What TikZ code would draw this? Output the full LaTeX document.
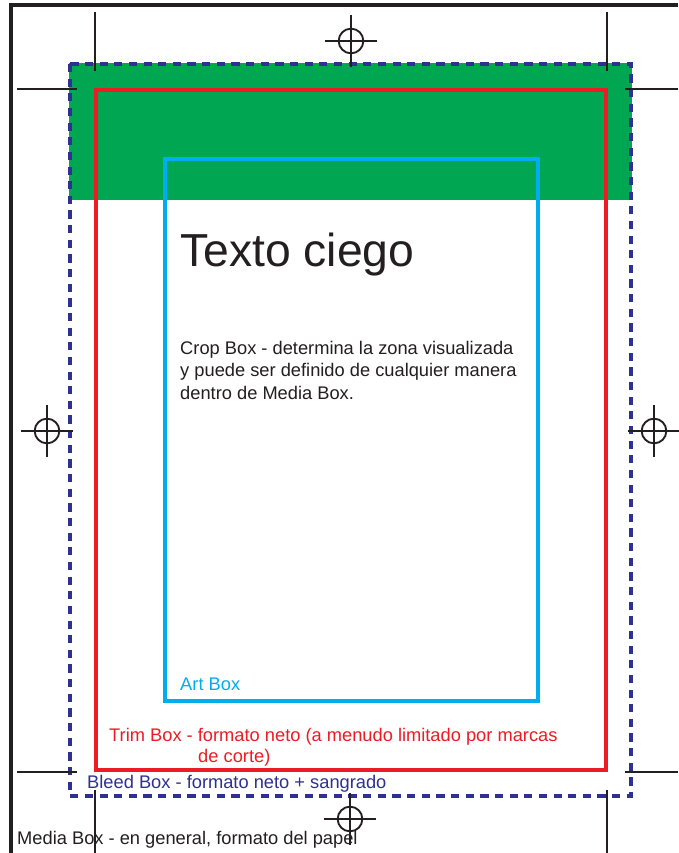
\documentclass[tikz,border=0pt]{standalone}
\usepackage{fontspec}
\setmainfont{Liberation Sans}
\definecolor{inkdark}{HTML}{231F20}
\definecolor{bleedgreen}{HTML}{00A651}
\definecolor{bleedblue}{HTML}{2E3192}
\definecolor{trimred}{HTML}{ED1C24}
\definecolor{artcyan}{HTML}{00AEEF}
\tikzset{
  medialine/.style={draw=inkdark, line width=2.6pt},
  bleedline/.style={draw=bleedblue, line width=2.8pt, dash pattern=on 7pt off 5.5pt},
  trimline/.style={draw=trimred, line width=2.8pt},
  artline/.style={draw=artcyan, line width=2.8pt},
  markline/.style={draw=inkdark, line width=1.3pt},
  boxlabel/.style={anchor=base west, inner sep=0pt, font=\fontsize{15.6}{18.8}\selectfont}
}

\begin{document}
\begin{tikzpicture}[x=0.03cm, y=-0.03cm]
\useasboundingbox (0,0) rectangle (678,853);
\fill[white] (0,0) rectangle (678,853);
\fill[bleedgreen] (69,63) rectangle (632,200);
\draw[medialine] (11,853) -- (11,5) -- (678,5);
\draw[bleedline] (70,64) rectangle (631,796);
\draw[trimline] (96,90) rectangle (606,770);
\draw[artline] (165,159) rectangle (538,701);
% crop marks
\draw[markline] (95,12) -- (95,71);
\draw[markline] (17,89) -- (77,89);
\draw[markline] (607,12) -- (607,71);
\draw[markline] (625,89) -- (678,89);
\draw[markline] (17,772) -- (77,772);
\draw[markline] (95,790) -- (95,853);
\draw[markline] (625,772) -- (678,772);
\draw[markline] (607,790) -- (607,853);
% register marks
\foreach \x/\y in {351/41, 47/431, 654/431, 350/819} {
  \draw[markline, line width=1.6pt] (\x,\y) circle (0.37cm);
  \draw[markline] (\x-26,\y) -- (\x+26,\y);
  \draw[markline] (\x,\y-26) -- (\x,\y+26);
}
\node[anchor=base west, inner sep=0pt, text=inkdark, font=\fontsize{39.5}{44}\selectfont] (title) at (180,267) {Texto ciego};
\node[boxlabel, text=inkdark, align=left] (crop) at (180,399) {Crop Box - determina la zona visualizada\\y puede ser definido de cualquier manera\\dentro de Media Box.};
\node[boxlabel, text=artcyan] (art) at (180,690) {Art Box};
\node[boxlabel, text=trimred] (trim) at (109,741) {Trim Box - formato neto (a menudo limitado por marcas};
\node[boxlabel, text=trimred] (trimb) at (198,762) {de corte)};
\node[boxlabel, text=bleedblue] (bleed) at (87,788) {Bleed Box - formato neto + sangrado};
\node[boxlabel, text=inkdark] (media) at (17,844) {Media Box - en general, formato del papel};
\end{tikzpicture}
\end{document}
